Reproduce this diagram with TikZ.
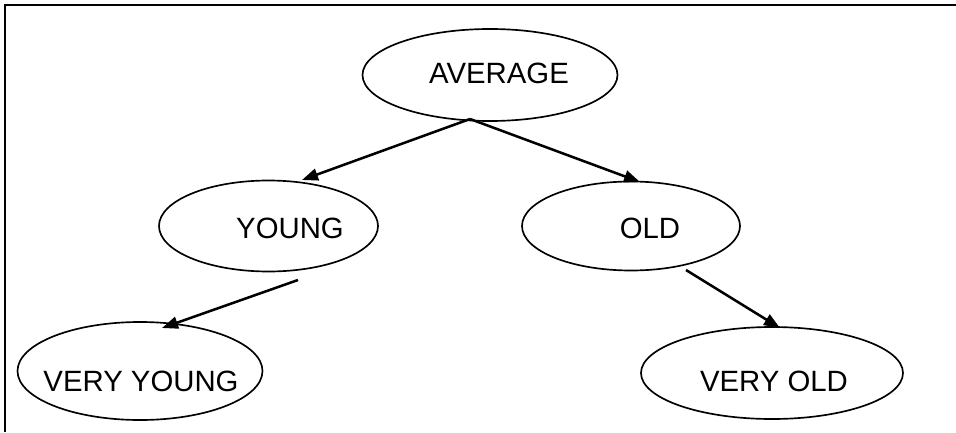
\documentclass[tikz,border=0pt]{standalone}
\usepackage{fontspec}
\setmainfont{Liberation Sans}
\usetikzlibrary{shapes.geometric,arrows.meta}
\begin{document}
\begin{tikzpicture}[x=0.75pt,y=-0.75pt,
  oval/.style={ellipse,draw,line width=1.25pt,inner sep=0pt},
  lbl/.style={inner sep=0pt,font=\fontsize{22}{26}\selectfont},
  link/.style={line width=1.9pt,-{Triangle[length=12pt,width=9pt]}}]
\useasboundingbox (0,0) rectangle (956,432);
% frame (top and left edges)
\draw[line width=1.6pt] (956,5) -- (5,5) -- (5,432);

% ovals
\node[oval,minimum width=191.25pt,minimum height=69pt] (avg) at (490,75) {};
\node[oval,minimum width=164.25pt,minimum height=68.25pt] (young) at (268.5,226) {};
\node[oval,minimum width=163.5pt,minimum height=66.75pt] (old) at (631,226) {};
\node[oval,minimum width=183.75pt,minimum height=73.5pt] (vyoung) at (140,371) {};
\node[oval,minimum width=196.5pt,minimum height=69pt] (vold) at (772,373) {};

% labels
\node[lbl] (avgtxt) at (499,73) {AVERAGE};
\node[lbl] (youngtxt) at (290,228) {YOUNG};
\node[lbl] (oldtxt) at (650,228) {OLD};
\node[lbl] (vyoungtxt) at (141,381) {VERY YOUNG};
\node[lbl] (voldtxt) at (774,381) {VERY OLD};

% connector ends
\coordinate (apex) at (470,119);
\coordinate (youngtop) at (302,180);
\coordinate (oldtop) at (640,182);
\coordinate (youngfoot) at (298,280);
\coordinate (vyoungtop) at (162,328);
\coordinate (oldfoot) at (686,270);
\coordinate (voldtop) at (780,328);

% connectors
\draw[link] (apex) -- (youngtop);
\draw[link] (apex) -- (oldtop);
\draw[link] (youngfoot) -- (vyoungtop);
\draw[link] (oldfoot) -- (voldtop);
\end{tikzpicture}
\end{document}
